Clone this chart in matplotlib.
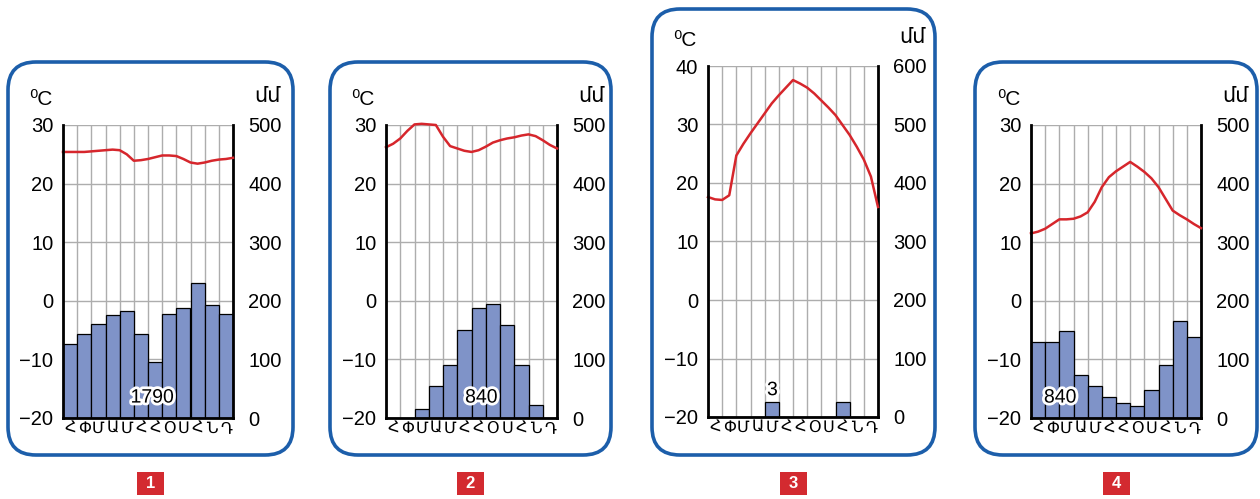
import numpy as np
import matplotlib.pyplot as plt
import matplotlib.patheffects as pe
from matplotlib.patches import FancyBboxPatch, Rectangle

plt.rcParams['font.family'] = ['Liberation Sans', 'DejaVu Sans']

# month initials (Armenian)
months = ['Հ', 'Փ', 'Մ', 'Ա', 'Մ', 'Հ', 'Հ', 'Օ', 'Ս', 'Հ', 'Ն', 'Դ']
# temperature read every half month, from start of Jan to end of Dec
temp_x = np.arange(0, 12.5, 0.5)

precip1 = [127, 143, 160, 175, 182, 143, 95, 178, 188, 231, 192, 178]
temp1 = [25.4, 25.4, 25.4, 25.4, 25.5, 25.6, 25.7, 25.8, 25.7, 25.0, 23.9, 24.0, 24.2,
         24.5, 24.8, 24.8, 24.7, 24.2, 23.6, 23.4, 23.6, 23.9, 24.1, 24.2, 24.4]
total1 = '1790'

precip2 = [0, 0, 16, 55, 91, 151, 187, 195, 159, 90, 23, 0]
temp2 = [26.2, 26.8, 27.7, 29.0, 30.1, 30.2, 30.1, 30.0, 28.0, 26.4, 26.0, 25.6, 25.4,
         25.7, 26.3, 27.0, 27.4, 27.7, 27.9, 28.2, 28.4, 28.1, 27.4, 26.6, 26.0]
total2 = '840'

precip3 = [0, 0, 0, 0, 25, 0, 0, 0, 0, 25, 0, 0]
temp3 = [17.6, 17.2, 17.1, 17.9, 24.7, 26.7, 28.5, 30.2, 31.9, 33.6, 35.0, 36.3, 37.6,
         37.0, 36.3, 35.3, 34.1, 32.9, 31.6, 29.9, 28.2, 26.2, 24.0, 21.1, 15.9]
total3 = '3'

precip4 = [130, 130, 149, 73, 54, 36, 26, 21, 47, 90, 165, 139]
temp4 = [11.5, 11.8, 12.3, 13.1, 13.9, 13.9, 14.0, 14.4, 15.1, 16.9, 19.4, 21.1, 22.1,
         22.9, 23.7, 22.9, 22.0, 20.9, 19.4, 17.4, 15.4, 14.6, 13.9, 13.1, 12.4]
total4 = '840'

temp_ticks_a = [-20, -10, 0, 10, 20, 30]
precip_ticks_a = [0, 100, 200, 300, 400, 500]
temp_ticks_b = [-20, -10, 0, 10, 20, 30, 40]
precip_ticks_b = [0, 100, 200, 300, 400, 500, 600]

# layout in pixels: box (x0, y0, x1, y1), plot area (x0, y0, x1, y1), total label pos
panels = [
    dict(box=(8, 62, 293, 455), plot=(63, 125, 233, 418), temp=temp1, precip=precip1,
         tt=temp_ticks_a, pt=precip_ticks_a, total=total1, lab=(6.3, 34)),
    dict(box=(330, 62, 611, 455), plot=(386, 125, 557, 418), temp=temp2, precip=precip2,
         tt=temp_ticks_a, pt=precip_ticks_a, total=total2, lab=(6.7, 34)),
    dict(box=(652, 9, 935, 455), plot=(708, 66, 878, 417), temp=temp3, precip=precip3,
         tt=temp_ticks_b, pt=precip_ticks_b, total=total3, lab=(4.55, 45)),
    dict(box=(975, 62, 1257, 455), plot=(1031, 125, 1201, 418), temp=temp4, precip=precip4,
         tt=temp_ticks_a, pt=precip_ticks_a, total=total4, lab=(2.07, 34)),
]

W, H = 1260, 499
fig = plt.figure(figsize=(W / 100, H / 100), dpi=100)

bg = fig.add_axes([0, 0, 1, 1], zorder=-5)
bg.set_xlim(0, W)
bg.set_ylim(H, 0)
bg.axis('off')

grid_c = '#adadad'
bar_c = '#7f93c8'
line_c = '#d6262c'
blue = '#1c5eaa'
red = '#d32a30'

for i, p in enumerate(panels):
    bx0, by0, bx1, by1 = p['box']
    bg.add_patch(FancyBboxPatch((bx0, by0), bx1 - bx0, by1 - by0,
                                boxstyle='round,pad=0,rounding_size=28',
                                fill=False, ec=blue, lw=2.6))
    cx = (bx0 + bx1) / 2
    bg.add_patch(Rectangle((cx - 13.5, 472), 27, 23, color=red, lw=0))
    bg.text(cx, 484, str(i + 1), color='white', fontweight='bold', fontsize=12,
            ha='center', va='center')

    x0, y0, x1, y1 = p['plot']
    ax = fig.add_axes([x0 / W, 1 - y1 / H, (x1 - x0) / W, (y1 - y0) / H])
    ax2 = ax.twinx()
    ax.set_zorder(3)
    ax.patch.set_visible(False)

    # grid + bars on precipitation axis
    for b in range(13):
        ax2.axvline(b, color=grid_c, lw=1, zorder=0)
    for v in p['pt']:
        ax2.axhline(v, color=grid_c, lw=1, zorder=0)
    ax2.bar(np.arange(12) + 0.5, p['precip'], width=1, color=bar_c,
            edgecolor='black', lw=0.9, zorder=2)
    ax2.text(p['lab'][0], p['lab'][1], p['total'], ha='center', va='center',
             fontsize=14, zorder=5,
             path_effects=[pe.withStroke(linewidth=4, foreground='white')])
    ax2.set_ylim(p['pt'][0], p['pt'][-1])
    ax2.set_yticks(p['pt'])
    ax2.tick_params(axis='y', length=0, pad=11, labelsize=14.5)
    for s in ['left', 'top', 'bottom']:
        ax2.spines[s].set_visible(False)
    ax2.spines['right'].set_linewidth(2)

    # temperature line
    ax.plot(temp_x, p['temp'], color=line_c, lw=1.8, clip_on=False)
    ax.set_xlim(0, 12)
    ax.set_ylim(p['tt'][0], p['tt'][-1])
    ax.set_yticks(p['tt'])
    ax.set_xticks(np.arange(12) + 0.5)
    ax.set_xticklabels(months, fontsize=11.5)
    ax.tick_params(axis='x', length=0, pad=2)
    ax.tick_params(axis='y', length=0, pad=7, labelsize=14.5)
    ax.spines['top'].set_visible(False)
    ax.spines['right'].set_visible(False)
    ax.spines['left'].set_linewidth(2)
    ax.spines['bottom'].set_linewidth(2)

    bg.text(x0 - 11, y0 - 26, '⁰C', ha='right', va='center', fontsize=15)
    bg.text(x1 + 21, y0 - 29, 'մմ', ha='left', va='center', fontsize=15)

fig.savefig('out.png', dpi=100)
